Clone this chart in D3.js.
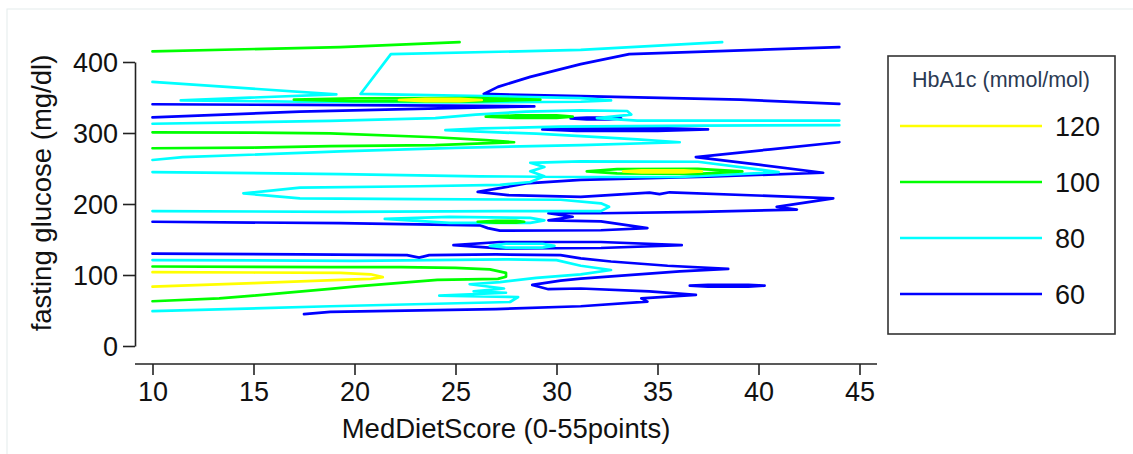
<!DOCTYPE html>
<html>
<head>
<meta charset="utf-8">
<script src="https://cdn.jsdelivr.net/npm/d3@7"></script>
<style>
  body { margin: 0; background: #fff; }
  svg { display: block; font-family: "Liberation Sans", Arial, sans-serif; }
</style>
</head>
<body>
<svg width="1133" height="454"></svg>
<script>
// contour levels of HbA1c, legend order
const levels = [120, 100, 80, 60];
const legendTitle = "HbA1c (mmol/mol)";
const xTicks = [10, 15, 20, 25, 30, 35, 40, 45];
const yTicks = [0, 100, 200, 300, 400];
const xTitle = "MedDietScore (0-55points)";
const yTitle = "fasting glucose (mg/dl)";

// each contour = list of paths, each path = [MedDietScore, glucose] points
const contour120 = [
  [[22.2,346.5],[23.5,348],[25.2,348],[26.3,346.5],[25.2,345],[23.5,345],[22.2,346.5]],
  [[33.3,246],[34.2,247.5],[36.3,247.5],[37.2,246],[36.3,244.5],[34.2,244.5],[33.3,246]],
  [[10,104],[15,103.5],[19.3,103],[20.8,101],[21.4,97],[20.8,94.5],[19.3,93],[15,88.5],[10,83.5]]
];
const contour100 = [
  [[10,415],[19.3,421],[25.2,428]],
  [[17,347],[20,348.8],[26,349],[29.2,347],[26,344.5],[20,345],[17,347]],
  [[26.5,323],[28,324.8],[30,324.8],[30.8,323],[30,321.2],[28,321.2],[26.5,323]],
  [[10,301],[15,300.5],[18.8,299.5],[24,294],[26.5,290],[27.9,287],[24,283],[18.8,281.5],[15,279.5],[10,278.5]],
  [[31.5,246],[33,249],[37,249.5],[39.2,246],[37,242.5],[33,243],[31.5,246]],
  [[26.1,175],[27,176.3],[28,176.3],[28.4,175],[28,173.7],[27,173.7],[26.1,175]],
  [[10,112],[18.8,111],[22.3,111],[25,110],[26.7,108],[27.5,103],[27.5,97.5],[27.1,94.5],[24.1,93],[20.1,84],[18.8,80.5],[15,71],[13.3,67],[10,63]]
];
const contour80 = [
  [[10,372],[19.1,354.5],[11.4,346],[17.3,344],[24.7,343],[31.2,344],[32.7,346],[31.2,349],[26.4,352],[20.3,355],[21.8,411],[31.2,417],[38.2,428]],
  [[10,313],[18.8,317],[24,321],[26,326],[28.5,330],[31.2,332],[33.5,331],[33.7,326],[32,321],[34,317.5],[44,317.5]],
  [[44,311],[37.1,310.5],[30.2,309],[26.3,306.5],[24.5,304],[26.5,301.5],[29,299],[31.2,295.5],[34,291],[36.1,287],[31.2,283],[25,279],[19.3,274],[11.5,266],[10,262]],
  [[10,245],[19.3,242],[26.2,239],[31.2,238],[36.1,238],[41,245],[37,259.5],[31.2,260],[28.7,258],[29.4,252],[28.7,246],[29.4,239],[28.7,231],[27.2,227],[23.2,225],[17.3,223],[14.5,215],[17.3,208],[23.2,207],[30.2,206],[32.2,201],[32.6,196],[32.2,190],[27.2,190],[19.3,189],[10,190]],
  [[21.5,179],[24.7,182],[28.7,180.5],[29.4,177],[28.7,173.5],[24.7,173.5],[21.5,179]],
  [[26.7,141],[27.5,144],[29.3,144],[29.9,141],[29.3,138.5],[27.5,138.5],[26.7,141]],
  [[10,121],[20,120],[27.5,122],[30,121],[31.2,113],[32.7,107],[31.2,101],[29,96],[27.2,90],[25.7,87],[27.4,81],[25.9,77],[27.5,75],[24.2,71],[28.1,69],[27.7,62],[18.8,56],[10,49]]
];
const contour60 = [
  [[44,421],[33.6,411],[31.2,397],[28.7,379],[27.1,365],[26.4,355],[31.2,352],[39.1,347],[44,341]],
  [[10,340.5],[17.3,339.5],[24.7,338.5],[28.9,337.5],[24.7,335],[17.3,330],[10,322]],
  [[30.7,320.5],[31.5,321.7],[32.6,321.7],[33.2,320.5],[32.6,319.3],[31.5,319.3],[30.7,320.5]],
  [[29.3,305],[31,306.8],[35,306.8],[37.5,305],[35,303],[31,303],[29.3,305]],
  [[44,287],[40.6,277],[36.9,266],[40.1,255],[43.2,244],[37.5,238.5],[31.2,234],[28.5,229],[26.1,217],[27.6,212.5],[31.2,210],[34.6,216],[35.1,214],[35.6,216.5],[43.7,208],[40.9,196],[41.9,192],[37.1,189],[32.2,187],[29.6,187],[30.8,182],[29.6,177],[32.2,175.5],[34.5,166],[32.2,163],[27.2,162.5],[26.6,166],[26.2,170],[19.3,173],[10,175]],
  [[24.9,142],[27.2,146.5],[32.2,146.5],[36.2,142],[32.2,138],[27.2,137.5],[24.9,142]],
  [[10,130],[17.3,129],[22.6,128],[23.2,124.5],[23.7,128],[27,129],[30.2,128],[31.2,123.5],[32.7,119],[35.5,113],[38.5,108.5],[36.1,105],[31.2,95],[30.2,92],[28.8,86],[29.6,80],[31.2,81],[34.6,77],[36.9,72],[34.2,67],[34.5,62.5],[31.2,56],[27,52],[18.8,48],[17.5,45]],
  [[36.6,85],[37.5,86.3],[39.5,86.3],[40.3,85],[39.5,83.7],[37.5,83.7],[36.6,85]]
];

var svg = d3.select("svg");
var color = d3.scaleOrdinal().domain(levels).range(["#ffff00", "#00ff00", "#00ffff", "#0000ff"]);

var x = d3.scaleLinear().domain([10, 45]).range([152.5, 859.5]);
var y = d3.scaleLinear().domain([0, 400]).range([346, 62]);

// faint outer frame
svg.append("rect").attr("x", 7).attr("y", 9).attr("width", 1140).attr("height", 460)
  .attr("fill", "none").attr("stroke", "#e4ecec").attr("stroke-width", 1);

// draw lowest level first so the high ones sit on top
var drawOrder = [
  {level: 60, paths: contour60},
  {level: 80, paths: contour80},
  {level: 100, paths: contour100},
  {level: 120, paths: contour120}
];
var line = d3.line().x(function(d){ return x(d[0]); }).y(function(d){ return y(d[1]); });

drawOrder.forEach(function(c){
  svg.append("g").selectAll("path").data(c.paths).enter()
    .append("path")
    .attr("d", line)
    .attr("fill", "none")
    .attr("stroke", color(c.level))
    .attr("stroke-width", 2.7)
    .attr("stroke-linejoin", "round")
    .attr("stroke-linecap", "round");
});

// y axis
var yAxis = svg.append("g").attr("transform", "translate(135,0)")
  .call(d3.axisLeft(y).tickValues(yTicks).tickSize(12).tickSizeOuter(0).tickPadding(5));
yAxis.select(".domain").attr("stroke", "#222").attr("stroke-width", 1.6);
yAxis.selectAll(".tick line").attr("stroke", "#222").attr("stroke-width", 1.6);
yAxis.selectAll("text").attr("font-size", 27).attr("fill", "#111").attr("dy", "0.36em")
  .style("font-family", "'Liberation Sans', Arial, sans-serif");

// x axis, its line runs past the first and last tick
var xAxis = svg.append("g").attr("transform", "translate(0,364)")
  .call(d3.axisBottom(x).tickValues(xTicks).tickSize(11).tickSizeOuter(0).tickPadding(7));
xAxis.select(".domain").remove();
xAxis.append("line").attr("x1", 135).attr("x2", 877).attr("stroke", "#222").attr("stroke-width", 1.6);
xAxis.selectAll(".tick line").attr("stroke", "#222").attr("stroke-width", 1.6);
xAxis.selectAll("text").attr("font-size", 27).attr("fill", "#111")
  .style("font-family", "'Liberation Sans', Arial, sans-serif");

svg.append("text").attr("x", 506).attr("y", 438).attr("text-anchor", "middle")
  .attr("font-size", 27.5).attr("fill", "#111").text(xTitle);
svg.append("text").attr("transform", "translate(51,193) rotate(-90)").attr("text-anchor", "middle")
  .attr("font-size", 27.5).attr("fill", "#111").text(yTitle);

// legend
var lg = svg.append("g");
lg.append("rect").attr("x", 888).attr("y", 56).attr("width", 227).attr("height", 278)
  .attr("fill", "#fff").attr("stroke", "#333").attr("stroke-width", 1.6);
lg.append("text").attr("x", 1001).attr("y", 87).attr("text-anchor", "middle")
  .attr("font-size", 21.5).attr("fill", "#2b3a52").text(legendTitle);
var items = lg.selectAll("g.item").data(levels).enter().append("g")
  .attr("transform", function(d, i){ return "translate(0," + (126 + i * 56) + ")"; });
items.append("line").attr("x1", 900).attr("x2", 1042)
  .attr("stroke", function(d){ return color(d); }).attr("stroke-width", 2.7);
items.append("text").attr("x", 1055).attr("y", 10).attr("font-size", 27).attr("fill", "#111")
  .text(function(d){ return d; });
</script>
</body>
</html>
